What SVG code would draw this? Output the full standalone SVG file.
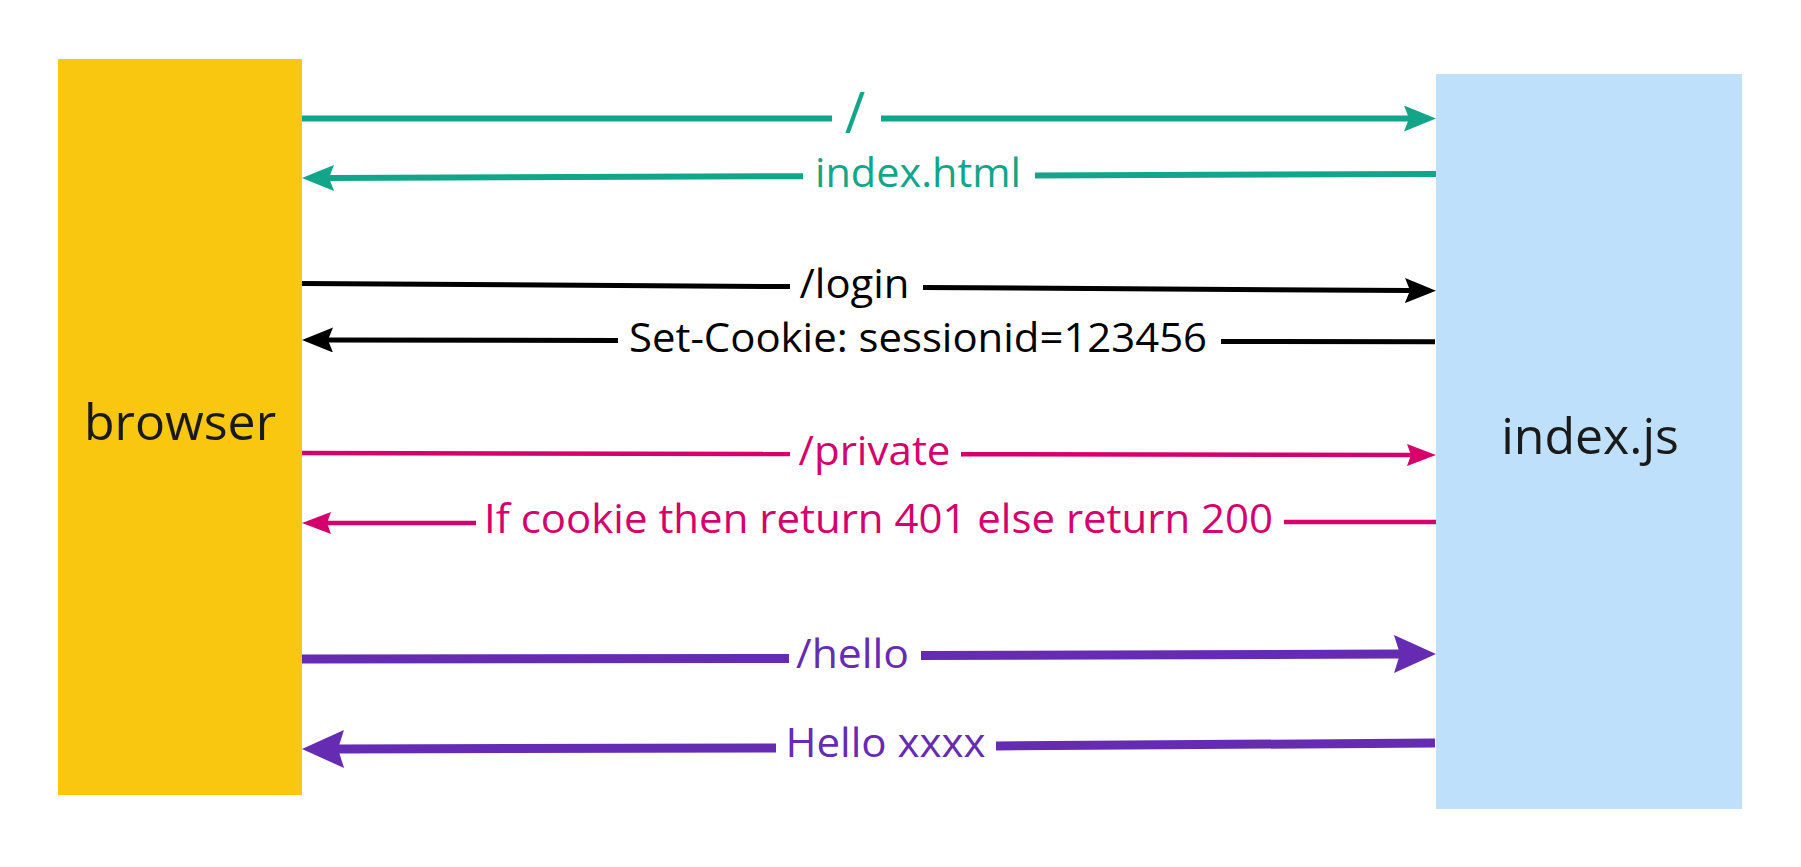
<svg xmlns="http://www.w3.org/2000/svg" width="1801" height="867" viewBox="0 0 1801 867">
<style>
  .node-label { font-family: "Open Sans", "Noto Sans", "Liberation Sans", sans-serif; font-size: 50px; fill: #1a1a1a; text-anchor: middle; }
  .edge-label { font-family: "Open Sans", "Noto Sans", "Liberation Sans", sans-serif; font-size: 40px; text-anchor: middle; }
  .teal { stroke: #12A58A; stroke-width: 6; fill: none; }
  .black { stroke: #000000; stroke-width: 5; fill: none; }
  .pink { stroke: #D5006B; stroke-width: 4.5; fill: none; }
  .purple { stroke: #652CB3; stroke-width: 9; fill: none; }
</style>
<defs>
  <marker id="ah-teal" markerUnits="userSpaceOnUse" viewBox="0 -13 32 26" markerWidth="32" markerHeight="26" refX="5" refY="0" orient="auto">
    <path d="M0,-13 L32,0 L0,13 L5,0 Z" fill="#12A58A"/>
  </marker>
  <marker id="ah-black" markerUnits="userSpaceOnUse" viewBox="0 -12.5 31 25" markerWidth="31" markerHeight="25" refX="5" refY="0" orient="auto">
    <path d="M0,-12.5 L31,0 L0,12.5 L5,0 Z" fill="#000000"/>
  </marker>
  <marker id="ah-pink" markerUnits="userSpaceOnUse" viewBox="0 -11 29 22" markerWidth="29" markerHeight="22" refX="4" refY="0" orient="auto">
    <path d="M0,-11 L29,0 L0,11 L4,0 Z" fill="#D5006B"/>
  </marker>
  <marker id="ah-purple" markerUnits="userSpaceOnUse" viewBox="0 -19 42 38" markerWidth="42" markerHeight="38" refX="6" refY="0" orient="auto">
    <path d="M0,-19 L42,0 L0,19 L6,0 Z" fill="#652CB3"/>
  </marker>
</defs>
<rect width="1801" height="867" fill="#ffffff"/>

<g id="browser">
  <rect x="58" y="59" width="244" height="736" fill="#F9C610"/>
  <text class="node-label" x="180" y="440">browser</text>
</g>

<g id="indexjs">
  <rect x="1436" y="74" width="306" height="735" fill="#BEE0FB"/>
  <text class="node-label" x="1590" y="454">index.js</text>
</g>

<g id="connectors">
  <!-- / -->
  <line class="teal" x1="302" y1="118.5" x2="832" y2="118.5"/>
  <line class="teal" x1="881" y1="118.5" x2="1409" y2="118.5" marker-end="url(#ah-teal)"/>
  <text class="edge-label" x="855" y="133" style="font-size:56px" fill="#12A58A">/</text>
  <!-- index.html -->
  <line class="teal" x1="1436" y1="174" x2="1035" y2="175.4"/>
  <line class="teal" x1="803" y1="176.2" x2="329" y2="178" marker-end="url(#ah-teal)"/>
  <text class="edge-label" x="918" y="187" fill="#12A58A" textLength="206" lengthAdjust="spacingAndGlyphs">index.html</text>
  <!-- /login -->
  <line class="black" x1="302" y1="283.5" x2="790" y2="286.6"/>
  <line class="black" x1="923" y1="287.4" x2="1410" y2="290.6" marker-end="url(#ah-black)"/>
  <text class="edge-label" x="854.5" y="298" fill="#000000" textLength="110" lengthAdjust="spacingAndGlyphs">/login</text>
  <!-- Set-Cookie -->
  <line class="black" x1="1435" y1="341.7" x2="1221" y2="341.4"/>
  <line class="black" x1="618" y1="340.5" x2="328" y2="340" marker-end="url(#ah-black)"/>
  <text class="edge-label" x="918" y="352" fill="#000000" textLength="578" lengthAdjust="spacingAndGlyphs">Set-Cookie: sessionid=123456</text>
  <!-- /private -->
  <line class="pink" x1="302" y1="453" x2="790" y2="454"/>
  <line class="pink" x1="961" y1="454.2" x2="1411" y2="455" marker-end="url(#ah-pink)"/>
  <text class="edge-label" x="874.5" y="465" fill="#D5006B" textLength="152" lengthAdjust="spacingAndGlyphs">/private</text>
  <!-- If cookie -->
  <line class="pink" x1="1436" y1="522" x2="1284" y2="522"/>
  <line class="pink" x1="476" y1="523" x2="327" y2="523" marker-end="url(#ah-pink)"/>
  <text class="edge-label" x="878.5" y="533" fill="#D5006B" textLength="789" lengthAdjust="spacingAndGlyphs">If cookie then return 401 else return 200</text>
  <!-- /hello -->
  <line class="purple" x1="302" y1="659" x2="789" y2="658.5"/>
  <line class="purple" x1="921" y1="655.5" x2="1400" y2="654" marker-end="url(#ah-purple)"/>
  <text class="edge-label" x="852.5" y="668" fill="#652CB3" textLength="113" lengthAdjust="spacingAndGlyphs">/hello</text>
  <!-- Hello xxxx -->
  <line class="purple" x1="1435" y1="743" x2="996" y2="746"/>
  <line class="purple" x1="776" y1="748" x2="338" y2="749" marker-end="url(#ah-purple)"/>
  <text class="edge-label" x="885.5" y="757" fill="#652CB3" textLength="200" lengthAdjust="spacingAndGlyphs">Hello xxxx</text>
</g>
</svg>
